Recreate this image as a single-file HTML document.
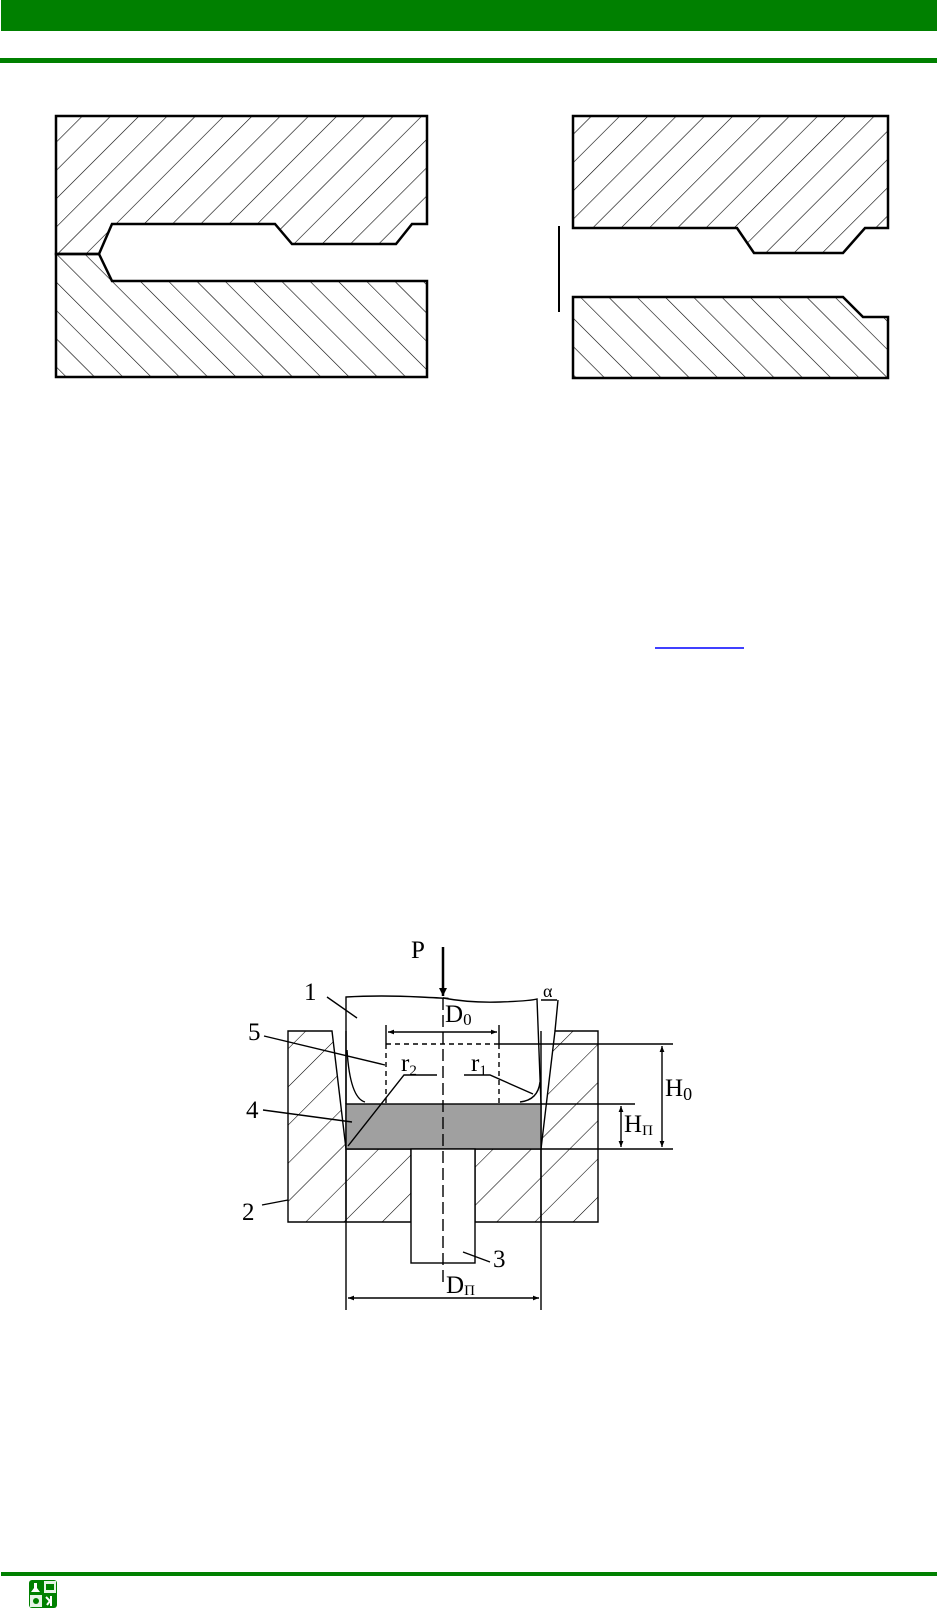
<!DOCTYPE html>
<html><head><meta charset="utf-8"><style>
html,body{margin:0;padding:0;background:#fff;}
body{width:937px;height:1609px;position:relative;overflow:hidden;}
</style></head><body>
<svg width="937" height="1609" viewBox="0 0 937 1609" xmlns="http://www.w3.org/2000/svg" style="position:absolute;left:0;top:0">
<defs>
<pattern id="hf" patternUnits="userSpaceOnUse" width="20" height="20" patternTransform="rotate(45)">
<line x1="0" y1="0" x2="0" y2="20" stroke="#000" stroke-width="1.2"/></pattern>
<pattern id="hb" patternUnits="userSpaceOnUse" width="20" height="20" patternTransform="rotate(-45)">
<line x1="0" y1="0" x2="0" y2="20" stroke="#000" stroke-width="1.2"/></pattern>
<pattern id="hd" patternUnits="userSpaceOnUse" width="27" height="27" patternTransform="rotate(45)">
<line x1="0" y1="0" x2="0" y2="27" stroke="#000" stroke-width="1.1"/></pattern>
<marker id="ar" viewBox="0 0 10 10" refX="10" refY="5" markerWidth="9" markerHeight="6" orient="auto-start-reverse" markerUnits="userSpaceOnUse"><path d="M0,1 L10,5 L0,9 z" fill="#000"/></marker>
<marker id="arb" viewBox="0 0 10 10" refX="10" refY="5" markerWidth="12" markerHeight="8" orient="auto" markerUnits="userSpaceOnUse"><path d="M0,0 L10,5 L0,10 z" fill="#000"/></marker>
</defs>
<rect x="1" y="0" width="936" height="31" fill="#008000"/>
<rect x="0" y="58" width="937" height="5" fill="#008000"/>
<rect x="1" y="1572" width="936" height="4" fill="#008000"/>
<g transform="translate(29,1580)">
<rect width="28" height="28" rx="3" fill="#008000"/>
<rect x="1" y="15" width="12" height="12" fill="#fff" opacity=".9"/>
<rect x="15" y="1" width="12" height="12" fill="#fff" opacity=".9"/>
<path d="M5 3h3v5l3 4H2l3-4z" fill="#fff"/>
<circle cx="7" cy="21" r="3" fill="#008000"/>
<rect x="17" y="4" width="8" height="6" fill="#008000"/>
<path d="M17 17l4 4-3 4M22 16v10" stroke="#fff" stroke-width="2" fill="none"/>
</g>
<line x1="655" y1="648" x2="744" y2="648" stroke="#00f" stroke-width="1.5"/>

<path d="M56,116 H427 V224 H412 L396,244 H292 L275,224 H112 L99,254 H56 Z" fill="url(#hf)" stroke="#000" stroke-width="2.5"/>
<path d="M56,254 H99 L112,281 H427 V377 H56 Z" fill="url(#hb)" stroke="#000" stroke-width="2.5"/>
<path d="M573,116 H888 V228 H865 L843,253 H754 L737,228 H573 Z" fill="url(#hf)" stroke="#000" stroke-width="2.5"/>
<path d="M573,297 H843 L863,317 H888 V378 H573 Z" fill="url(#hb)" stroke="#000" stroke-width="2.5"/>
<line x1="559" y1="226" x2="559" y2="312" stroke="#000" stroke-width="2"/>

<g stroke="#000" stroke-width="1.4" fill="none">
<path d="M288,1031 H332 L346,1149 H411 V1222 H288 Z" fill="url(#hd)"/>
<path d="M598,1031 H555 L541,1149 H475 V1222 H598 Z" fill="url(#hd)"/>
<path d="M346,1031 V1222 M541,1031 V1222" />
<path d="M346,1149 V1310 M541,1149 V1310"/>
<rect x="346" y="1104" width="195" height="45" fill="#a0a0a0"/>
<path d="M346,1104 V997 Q380,995 420,997 T443,998 Q470,1003 500,1002 T537,999 L541,1104"/>
<path d="M347,1050 Q350,1098 365,1102 M540,1082 Q538,1100 520,1102"/>
<rect x="411" y="1149" width="64" height="114" fill="#fff"/>
<path d="M443,998 V1282" stroke-dasharray="12,5"/>
<path d="M386,1044 H499 M386,1044 V1104 M499,1044 V1104" stroke-dasharray="5,4"/>
<path d="M386,1025 V1044 M499,1025 V1044"/>
<line x1="388" y1="1032" x2="497" y2="1032" marker-start="url(#ar)" marker-end="url(#ar)"/>
<path d="M499,1044 H673 M541,1149 H673 M541,1104 H635"/>
<line x1="662" y1="1046" x2="662" y2="1147" marker-start="url(#ar)" marker-end="url(#ar)"/>
<line x1="621" y1="1106" x2="621" y2="1147" marker-start="url(#ar)" marker-end="url(#ar)"/>
<line x1="348" y1="1298" x2="539" y2="1298" marker-start="url(#ar)" marker-end="url(#ar)"/>
<line x1="443" y1="947" x2="443" y2="996" stroke-width="2.5" marker-end="url(#arb)"/>
<path d="M541,1000 H557 M555,1031 L558,1000"/>
<path d="M327,997 L357,1018 M264,1036 L385,1065 M263,1110 L352,1122 M262,1205 L288,1200 M463,1252 L490,1262"/>
<path d="M437,1075 H404 L348,1146 M464,1075 H490 L533,1094"/>
</g>
<g font-family="'Liberation Serif',serif" font-size="25" fill="#000">
<text x="411" y="958">P</text>
<text x="304" y="1000">1</text>
<text x="248" y="1040">5</text>
<text x="246" y="1118">4</text>
<text x="242" y="1220">2</text>
<text x="493" y="1267">3</text>
<text x="543" y="997" font-size="18">α</text>
<text x="445" y="1022">D<tspan font-size="17" dy="3">0</tspan></text>
<text x="446" y="1293">D<tspan font-size="15" dy="2">П</tspan></text>
<text x="665" y="1096">H<tspan font-size="18" dy="4">0</tspan></text>
<text x="624" y="1132">H<tspan font-size="15" dy="3">П</tspan></text>
<text x="401" y="1071">r<tspan font-size="15" dy="4">2</tspan></text>
<text x="471" y="1071">r<tspan font-size="15" dy="4">1</tspan></text>
</g>
</svg>
</body></html>
